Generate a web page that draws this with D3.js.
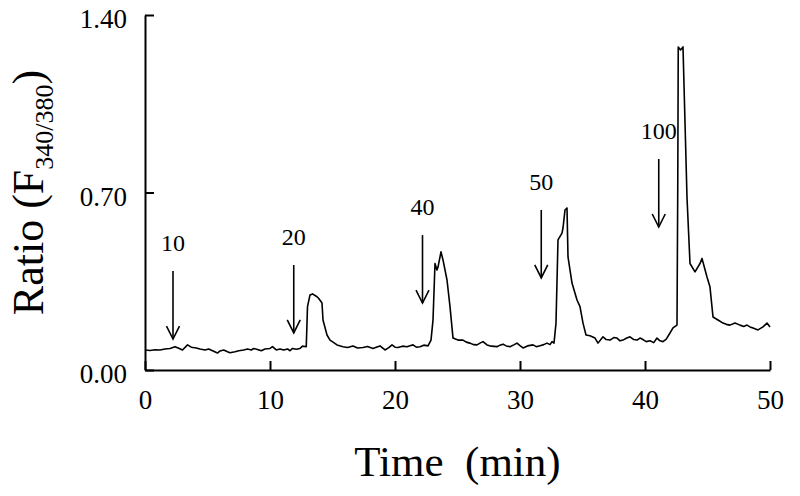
<!DOCTYPE html>
<html>
<head>
<meta charset="utf-8">
<script src="https://cdn.jsdelivr.net/npm/d3@7"></script>
<style>
  body { margin: 0; background: #fff; }
  svg { display: block; }
  text { font-family: "Liberation Serif", "Times New Roman", serif; fill: #000; }
</style>
</head>
<body>
<div id="chart"></div>
<script>
// trace: time (min) and F340/F380 ratio
const timeMin = [
  0.0, 0.4, 0.8, 1.2, 1.6, 2.0, 2.4, 2.7, 3.0, 3.4, 3.7, 4.1, 4.4, 4.8, 5.1, 5.4, 5.8, 6.0, 6.3, 6.6,
  6.8, 7.2, 7.5, 7.9, 8.2, 8.5, 8.7, 9.0, 9.3, 9.6, 10.0, 10.2, 10.5, 10.8, 11.1, 11.4, 11.6, 11.8, 12.1, 12.4,
  12.6, 12.9, 13.0, 13.2, 13.4, 13.76, 13.9, 14.16, 14.24, 14.56, 14.8, 15.1, 15.36, 15.84, 16.2, 16.64, 17.0, 17.44, 17.8, 18.24,
  18.5, 18.8, 19.2, 19.5, 19.76, 20.0, 20.24, 20.6, 20.96, 21.2, 21.44, 21.7, 22.0, 22.3, 22.64, 22.88, 23.04, 23.2, 23.36, 23.44,
  23.68, 23.84, 24.16, 24.4, 24.64, 25.04, 25.44, 25.7, 26.0, 26.3, 26.56, 26.8, 27.04, 27.36, 27.7, 28.16, 28.4, 28.64, 28.9, 29.2,
  29.5, 29.76, 30.0, 30.24, 30.6, 31.04, 31.3, 31.6, 31.9, 32.16, 32.4, 32.56, 32.72, 32.88, 33.04, 33.36, 33.44, 33.6, 33.76, 33.84,
  34.16, 34.56, 34.8, 35.04, 35.28, 35.6, 36.0, 36.24, 36.64, 36.9, 37.2, 37.5, 37.76, 38.0, 38.24, 38.5, 38.8, 39.1, 39.36, 39.6,
  39.84, 40.1, 40.4, 40.7, 40.96, 41.2, 41.44, 41.7, 42.0, 42.24, 42.56, 42.62, 42.66, 42.84, 43.04, 43.36, 43.6, 44.0, 44.4, 44.56,
  44.96, 45.2, 45.44, 45.84, 46.24, 46.5, 46.8, 47.2, 47.6, 47.9, 48.16, 48.4, 48.64, 49.04, 49.44, 49.76, 50.0
];
const ratio = [
  0.079, 0.077, 0.080, 0.079, 0.083, 0.085, 0.092, 0.086, 0.079, 0.099, 0.090, 0.087, 0.083, 0.079, 0.083, 0.076, 0.067, 0.075, 0.079, 0.072,
  0.068, 0.072, 0.076, 0.079, 0.083, 0.079, 0.085, 0.081, 0.076, 0.083, 0.085, 0.092, 0.079, 0.083, 0.079, 0.083, 0.076, 0.085, 0.082, 0.085,
  0.094, 0.092, 0.250, 0.296, 0.300, 0.289, 0.282, 0.264, 0.197, 0.138, 0.118, 0.108, 0.099, 0.092, 0.089, 0.095, 0.087, 0.089, 0.093, 0.085,
  0.090, 0.095, 0.079, 0.088, 0.099, 0.090, 0.089, 0.094, 0.092, 0.096, 0.099, 0.090, 0.092, 0.098, 0.095, 0.118, 0.197, 0.420, 0.394, 0.406,
  0.466, 0.434, 0.355, 0.250, 0.126, 0.118, 0.118, 0.110, 0.106, 0.100, 0.099, 0.106, 0.112, 0.099, 0.094, 0.092, 0.098, 0.102, 0.095, 0.092,
  0.099, 0.106, 0.096, 0.087, 0.095, 0.099, 0.092, 0.096, 0.100, 0.106, 0.100, 0.112, 0.106, 0.185, 0.513, 0.540, 0.560, 0.631, 0.639, 0.446,
  0.343, 0.276, 0.250, 0.185, 0.138, 0.135, 0.126, 0.106, 0.131, 0.120, 0.118, 0.128, 0.126, 0.115, 0.118, 0.125, 0.131, 0.120, 0.118, 0.126,
  0.120, 0.112, 0.115, 0.108, 0.126, 0.115, 0.112, 0.122, 0.146, 0.166, 0.177, 0.720, 1.274, 1.262, 1.274, 0.680, 0.420, 0.387, 0.420, 0.440,
  0.367, 0.327, 0.209, 0.197, 0.185, 0.180, 0.177, 0.185, 0.177, 0.172, 0.177, 0.170, 0.166, 0.158, 0.170, 0.185, 0.170
];

const xTicks = [0, 10, 20, 30, 40, 50];
const yTicks = [0, 0.7, 1.4];

// additions marked by arrows: label, time of addition, ratio at arrow tip
const doseLabels = ["10", "20", "40", "50", "100"];
const doseTimes = [2.24, 11.9, 22.2, 31.7, 41.1];
const doseTips = [0.122, 0.146, 0.264, 0.363, 0.564];

const width = 800, height = 496;
const margin = { top: 15, right: 30, bottom: 126, left: 145 };

const svg = d3.select("#chart").append("svg")
  .attr("width", width)
  .attr("height", height);

const x = d3.scaleLinear().domain([0, 50]).range([margin.left, width - margin.right]);
const y = d3.scaleLinear().domain([0, 1.4]).range([height - margin.bottom, margin.top]);

const data = timeMin.map((t, i) => ({ t, v: ratio[i] }));

// axes, ticks pointing into the plot
const xAxis = svg.append("g")
  .attr("transform", `translate(0,${y(0)})`)
  .call(d3.axisBottom(x).tickValues(xTicks).tickFormat(d3.format("d")).tickSize(-9).tickSizeOuter(0).tickPadding(0));
xAxis.selectAll("text").attr("y", 39).attr("dy", 0).style("font-size", "27px");

const yAxis = svg.append("g")
  .attr("transform", `translate(${x(0)},0)`)
  .call(d3.axisLeft(y).tickValues(yTicks).tickFormat(d3.format(".2f")).tickSize(-9).tickSizeOuter(0).tickPadding(18));
yAxis.selectAll("text").attr("dy", "0.47em").style("font-size", "27px");

svg.selectAll(".domain, .tick line").attr("stroke", "#000").attr("stroke-width", 2);

// trace
svg.append("path")
  .datum(data)
  .attr("fill", "none")
  .attr("stroke", "#000")
  .attr("stroke-width", 1.6)
  .attr("stroke-linejoin", "round")
  .attr("d", d3.line().x(d => x(d.t)).y(d => y(d.v)));

// arrows
const arrowLen = 68, head = 13, halfW = 6.5;
const ann = svg.append("g").selectAll("g")
  .data(doseLabels.map((label, i) => ({ label, t: doseTimes[i], v: doseTips[i] })))
  .join("g")
  .attr("transform", d => `translate(${x(d.t)},${y(d.v)})`);

ann.append("line")
  .attr("x1", 0).attr("x2", 0)
  .attr("y1", -arrowLen).attr("y2", 0)
  .attr("stroke", "#000").attr("stroke-width", 1.6);

ann.append("path")
  .attr("d", `M${-halfW},${-head}L0,0L${halfW},${-head}`)
  .attr("fill", "none").attr("stroke", "#000").attr("stroke-width", 1.6);

ann.append("text")
  .attr("y", -arrowLen - 20)
  .attr("text-anchor", "middle")
  .style("font-size", "24px")
  .text(d => d.label);

// axis titles
svg.append("text")
  .attr("x", (x(0) + x(50)) / 2)
  .attr("y", 476)
  .attr("text-anchor", "middle")
  .style("font-size", "43px")
  .style("white-space", "pre")
  .text("Time  (min)");

const yTitle = svg.append("text")
  .attr("transform", `translate(43,${(y(0) + y(1.4)) / 2}) rotate(-90)`)
  .attr("text-anchor", "middle")
  .style("font-size", "44px");
yTitle.append("tspan").text("Ratio (F");
yTitle.append("tspan").attr("dy", 10).style("font-size", "26px").text("340/380");
yTitle.append("tspan").attr("dy", -10).text(")");
</script>
</body>
</html>
